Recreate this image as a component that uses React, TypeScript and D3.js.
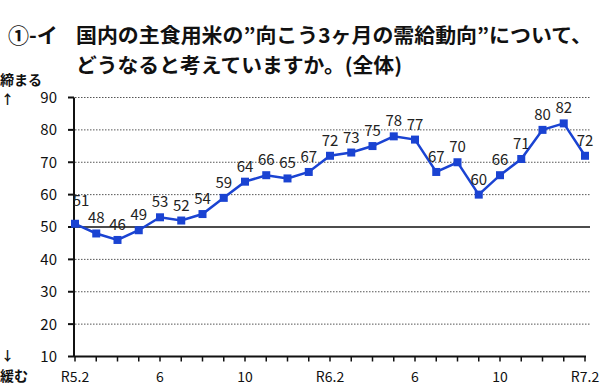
import * as d3 from "d3";

const months = [
  "R5.2", "3", "4", "5", "6", "7", "8", "9", "10", "11", "12", "R6.1",
  "R6.2", "3", "4", "5", "6", "7", "8", "9", "10", "11", "12", "R7.1", "R7.2",
];
const values = [
  51, 48, 46, 49, 53, 52, 54, 59, 64, 66, 65, 67,
  72, 73, 75, 78, 77, 67, 70, 60, 66, 71, 80, 82, 72,
];
const xTickLabels = ["R5.2", "6", "10", "R6.2", "6", "10", "R7.2"];
const xTickIdx = [0, 4, 8, 12, 16, 20, 24];
const yTicks = [10, 20, 30, 40, 50, 60, 70, 80, 90];

const titleLead = "①-イ";
const titleLine1 = "国内の主食用米の”向こう3ヶ月の需給動向”について、";
const titleLine2 = "どうなると考えていますか。(全体)";

const width = 600;
const height = 386;
const font = "'Noto Sans CJK JP', 'Noto Sans', sans-serif";
const blue = "#1a43d2";

export default function App() {
  const x = d3.scaleLinear().domain([0, months.length - 1]).range([75, 585]);
  const y = d3.scaleLinear().domain([10, 90]).range([356.5, 97.5]);

  const line = d3.line<number>()
    .x((_, i) => x(i))
    .y(d => y(d));

  return (
    <svg
      width={width}
      height={height}
      style={{ position: "absolute", left: 0, top: 0, background: "#fff" }}
      fontFamily={font}
    >
      {/* title */}
      <text x={8} y={43} fontSize={21} fontWeight="bold" fill="#111">{titleLead}</text>
      <text x={76} y={43} fontSize={20} fontWeight="bold" fill="#111" textLength={516} lengthAdjust="spacingAndGlyphs">{titleLine1}</text>
      <text x={76} y={73} fontSize={20} fontWeight="bold" fill="#111" textLength={326} lengthAdjust="spacingAndGlyphs">{titleLine2}</text>

      {/* side notes */}
      <text x={0} y={85} fontSize={14} fontWeight="bold" fill="#111">締まる</text>
      <text x={7.5} y={104} fontSize={13} fontWeight="bold" textAnchor="middle" fill="#111">↑</text>
      <text x={7.5} y={360} fontSize={13} fontWeight="bold" textAnchor="middle" fill="#111">↓</text>
      <text x={0} y={381} fontSize={14} fontWeight="bold" fill="#111">緩む</text>

      {/* grid */}
      {yTicks.filter(t => t !== 10 && t !== 50).map(t => (
        <line key={t} x1={75} x2={590} y1={y(t)} y2={y(t)}
          stroke="#555" strokeWidth={1} strokeDasharray="1.5,1.5" />
      ))}
      <line x1={75} x2={590} y1={y(50)} y2={y(50)} stroke="#111" strokeWidth={1.5} />

      {/* y axis */}
      <line x1={74} x2={74} y1={y(90)} y2={y(10)} stroke="#111" strokeWidth={2} />
      {yTicks.map(t => (
        <g key={t}>
          <line x1={68} x2={74} y1={y(t)} y2={y(t)} stroke="#111" strokeWidth={2} />
          <text x={57} y={y(t)} dy="0.36em" fontSize={15} textAnchor="end" fill="#111">{t}</text>
        </g>
      ))}

      {/* x axis */}
      <line x1={74} x2={586} y1={y(10)} y2={y(10)} stroke="#111" strokeWidth={2} />
      {months.map((m, i) => (
        <line key={m + i} x1={x(i)} x2={x(i)} y1={y(10)} y2={y(10) + 5} stroke="#111" strokeWidth={1.5} />
      ))}
      {xTickIdx.map((i, k) => (
        <text key={i} x={x(i)} y={382} fontSize={14} textAnchor="middle" fill="#111">{xTickLabels[k]}</text>
      ))}

      {/* series */}
      <path d={line(values) ?? ""} fill="none" stroke={blue} strokeWidth={2.5} />
      {values.map((v, i) => (
        <rect key={i} x={x(i) - 4} y={y(v) - 4} width={8} height={8} fill={blue} />
      ))}
      {values.map((v, i) => (
        <text key={i} x={x(i) + (i === 0 ? 6 : 0)} y={y(v) - (i === 0 ? 18 : 10)} fontSize={15} textAnchor="middle" fill="#222">{v}</text>
      ))}
    </svg>
  );
}
